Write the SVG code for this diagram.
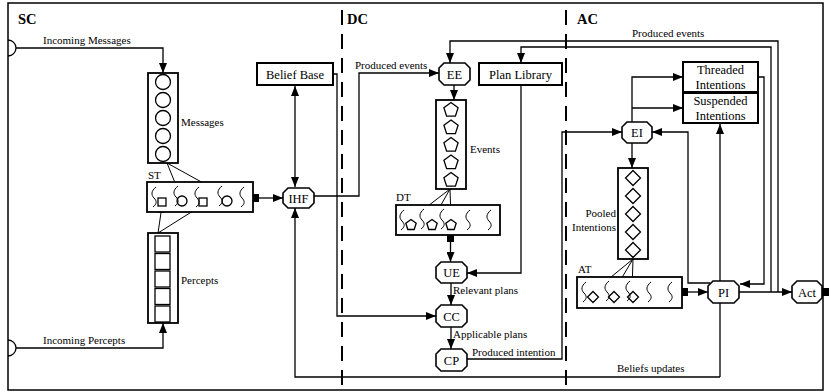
<svg xmlns="http://www.w3.org/2000/svg" xmlns:xlink="http://www.w3.org/1999/xlink" width="835" height="392" viewBox="0 0 835 392">
<style>
text{font-family:"Liberation Serif","Times New Roman",serif;font-size:11px;fill:#000}
.title{font-weight:bold;font-size:14.5px}
.lb{font-size:12.5px}
.mid{text-anchor:middle}
.end{text-anchor:end}
.box{fill:#fff;stroke:#000;stroke-width:2}
.q{fill:#fff;stroke:#000;stroke-width:1.8}
.oct{fill:#fff;stroke:#000;stroke-width:1.6}
.el{fill:none;stroke:#000;stroke-width:1.3}
.c{fill:none;stroke:#000;stroke-width:1.3}
.ca{fill:none;stroke:#000;stroke-width:1.3;marker-end:url(#ah)}
.cs{fill:none;stroke:#000;stroke-width:1;marker-end:url(#as)}
.dash{fill:none;stroke:#000;stroke-width:2;stroke-dasharray:15 9}
.fs{fill:#000}
.sq{fill:none;stroke:#000;stroke-width:1}
</style>
<defs>
<marker id="ah" markerWidth="10" markerHeight="8" refX="10" refY="4" orient="auto-start-reverse" markerUnits="userSpaceOnUse">
<path d="M0,0 L10,4 L0,8 Z" fill="#000"/>
</marker>
<marker id="as" markerWidth="7" markerHeight="6" refX="7" refY="3" orient="auto" markerUnits="userSpaceOnUse">
<path d="M0,0 L7,3 L0,6 Z" fill="#000"/>
</marker>
<path id="squig" d="M2,-10 C-3,-6 -3,-2 0,1 C3,4 3,7 -1,10" class="sq"/>
<path id="pent" d="M0,-7.5 L7.1,-2.3 L4.4,6.1 L-4.4,6.1 L-7.1,-2.3 Z" class="el"/>
<path id="pents" d="M0,-5.5 L5.2,-1.7 L3.2,4.5 L-3.2,4.5 L-5.2,-1.7 Z" class="el"/>
<path id="dia" d="M0,-7.5 L7.5,0 L0,7.5 L-7.5,0 Z" class="el"/>
<path id="dias" d="M0,-5.5 L5.5,0 L0,5.5 L-5.5,0 Z" class="el"/>
</defs>

<rect x="8" y="3" width="815" height="387" fill="#fff" stroke="#000" stroke-width="1.5"/>
<line class="dash" x1="342" y1="10" x2="342" y2="388"/>
<line class="dash" x1="566" y1="10" x2="566" y2="388"/>
<text class="title" x="18" y="24">SC</text>
<text class="title" x="347" y="24">DC</text>
<text class="title" x="577" y="24">AC</text>

<g id="connectors">
<path class="c" d="M8,40 A8,8 0 0 1 8,56"/>
<path class="c" d="M8,340 A8,8 0 0 1 8,356"/>
<path class="ca" d="M16,48 H163 V73"/>
<path class="ca" d="M16,348 H163 V323"/>
<path class="cs" d="M167,163 L180,195"/>
<path class="cs" d="M167,163 L225,195"/>
<path class="cs" d="M158,233 L162,206"/>
<path class="cs" d="M158,233 L201,206"/>
<rect class="fs" x="253" y="194" width="6" height="8"/>
<path class="ca" d="M259,198 H283"/>
<path class="c" d="M295,86 V187" style="marker-start:url(#ah);marker-end:url(#ah)"/>
<path class="ca" d="M333,74 H337 V316 H436"/>
<path class="ca" d="M314,196 H359 V73 H439"/>
<path class="ca" d="M454,85 V100"/>
<path class="cs" d="M450,189 L411,219"/>
<path class="cs" d="M450,189 L433,219"/>
<path class="cs" d="M450,189 L451,219"/>
<rect class="fs" x="447" y="235" width="7" height="7"/>
<path class="ca" d="M450.5,242 V262"/>
<path class="ca" d="M521,85 V273 H467"/>
<path class="ca" d="M451,283 V305"/>
<path class="ca" d="M451,327 V349"/>
<path class="ca" d="M467,359 H562 V132 H622"/>
<path class="ca" d="M778,292 V41 H450 V63"/>
<path class="ca" d="M771,292 V47 H521 V63"/>
<path class="ca" d="M739,292 H792"/>
<path class="ca" d="M758,77 H764 V284 H740"/>
<path class="ca" d="M710,283 H688 V132 H652"/>
<path class="ca" d="M632,122 V77 H683"/>
<path class="ca" d="M632,108 H683"/>
<path class="ca" d="M632,143 V168"/>
<path class="cs" d="M633,259 L594,291"/>
<path class="cs" d="M633,259 L614,291"/>
<path class="cs" d="M633,259 L632,291"/>
<rect class="fs" x="682" y="288" width="6" height="8"/>
<path class="ca" d="M688,292 H708"/>
<path class="ca" d="M720,377 V124"/>
<path class="ca" d="M720,377 H295 V208"/>
<rect class="fs" x="822" y="288" width="7" height="8"/>
</g>
<text x="43" y="44">Incoming Messages</text>
<text x="43" y="344">Incoming Percepts</text>

<g id="messages">
<rect class="q" x="148" y="73" width="30" height="90"/>
<circle class="el" cx="163" cy="82" r="7.5"/>
<circle class="el" cx="163" cy="100" r="7.5"/>
<circle class="el" cx="163" cy="118" r="7.5"/>
<circle class="el" cx="163" cy="136" r="7.5"/>
<circle class="el" cx="163" cy="154" r="7.5"/>
<text x="181" y="126">Messages</text>
</g>

<g id="percepts">
<rect class="q" x="148" y="233" width="30" height="90"/>
<rect class="el" x="155" y="236" width="15" height="16"/>
<rect class="el" x="155" y="253.5" width="15" height="16"/>
<rect class="el" x="155" y="271" width="15" height="16"/>
<rect class="el" x="155" y="288.5" width="15" height="16"/>
<rect class="el" x="155" y="306" width="15" height="16"/>
<text x="181" y="284">Percepts</text>
</g>

<g id="st">
<text x="148" y="179">ST</text>
<rect class="q" x="147" y="182" width="106" height="30"/>
<use xlink:href="#squig" x="154" y="197"/>
<use xlink:href="#squig" x="176" y="196"/>
<use xlink:href="#squig" x="197" y="197"/>
<use xlink:href="#squig" x="220" y="196"/>
<use xlink:href="#squig" x="242" y="197"/>
<rect class="el" x="158" y="198" width="8" height="8"/>
<circle class="el" cx="182" cy="201" r="5"/>
<rect class="el" x="199" y="198" width="8" height="8"/>
<circle class="el" cx="227" cy="201" r="5"/>
</g>

<g id="ihf">
<path class="oct" d="M288,188 H309 L314,193 V203 L309,208 H288 L283,203 V193 Z"/>
<text class="lb mid" x="298.5" y="202.5">IHF</text>
</g>

<g id="beliefbase">
<rect class="box" x="257" y="63" width="76" height="22"/>
<text class="lb mid" x="295" y="78.5">Belief Base</text>
</g>

<g id="ee">
<path class="oct" d="M444,63 H465 L470,68 V80 L465,85 H444 L439,80 V68 Z"/>
<text class="lb mid" x="454.5" y="78.5">EE</text>
</g>
<text x="355" y="69">Produced events</text>

<g id="planlibrary">
<rect class="box" x="479" y="63" width="83" height="22"/>
<text class="lb mid" x="520.5" y="78.5">Plan Library</text>
</g>

<g id="events">
<rect class="q" x="436" y="100" width="30" height="89"/>
<use xlink:href="#pent" x="451" y="110"/>
<use xlink:href="#pent" x="451" y="127.5"/>
<use xlink:href="#pent" x="451" y="145"/>
<use xlink:href="#pent" x="451" y="162.5"/>
<use xlink:href="#pent" x="451" y="180"/>
<text x="470" y="153">Events</text>
</g>

<g id="dt">
<text x="396" y="201">DT</text>
<rect class="q" x="396" y="205" width="104" height="30"/>
<use xlink:href="#squig" x="402" y="220"/>
<use xlink:href="#squig" x="422" y="219"/>
<use xlink:href="#squig" x="442" y="219"/>
<use xlink:href="#squig" x="468" y="220"/>
<use xlink:href="#squig" x="489" y="220"/>
<use xlink:href="#pents" x="411" y="225"/>
<use xlink:href="#pents" x="432" y="225"/>
<use xlink:href="#pents" x="451" y="225"/>
</g>

<g id="ue">
<path class="oct" d="M441,262 H462 L467,267 V278 L462,283 H441 L436,278 V267 Z"/>
<text class="lb mid" x="451.5" y="277">UE</text>
</g>
<text x="453" y="294">Relevant plans</text>

<g id="cc">
<path class="oct" d="M441,305 H462 L467,310 V322 L462,327 H441 L436,322 V310 Z"/>
<text class="lb mid" x="451.5" y="320.5">CC</text>
</g>
<text x="453" y="338">Applicable plans</text>

<g id="cp">
<path class="oct" d="M441,349 H462 L467,354 V366 L462,371 H441 L436,366 V354 Z"/>
<text class="lb mid" x="451.5" y="364.5">CP</text>
</g>
<text x="472" y="356">Produced intention</text>

<text x="632" y="37">Produced events</text>

<g id="threaded">
<rect class="box" x="683" y="62" width="75" height="30"/>
<text class="lb mid" x="720.5" y="74">Threaded</text>
<text class="lb mid" x="720.5" y="89">Intentions</text>
</g>

<g id="suspended">
<rect class="box" x="683" y="93" width="75" height="30"/>
<text class="lb mid" x="720.5" y="105">Suspended</text>
<text class="lb mid" x="720.5" y="120">Intentions</text>
</g>

<g id="ei">
<path class="oct" d="M627,122 H647 L652,127 V138 L647,143 H627 L622,138 V127 Z"/>
<text class="lb mid" x="637" y="137">EI</text>
</g>

<g id="pooled">
<rect class="q" x="618" y="168" width="30" height="91"/>
<use xlink:href="#dia" x="633" y="178"/>
<use xlink:href="#dia" x="633" y="196"/>
<use xlink:href="#dia" x="633" y="214"/>
<use xlink:href="#dia" x="633" y="232"/>
<use xlink:href="#dia" x="633" y="250"/>
<text class="end" x="616" y="217">Pooled</text>
<text class="end" x="616" y="231">Intentions</text>
</g>

<g id="at">
<text x="578" y="273">AT</text>
<rect class="q" x="577" y="277" width="105" height="31"/>
<use xlink:href="#squig" x="584" y="292"/>
<use xlink:href="#squig" x="607" y="291"/>
<use xlink:href="#squig" x="628" y="291"/>
<use xlink:href="#squig" x="649" y="292"/>
<use xlink:href="#squig" x="670" y="292"/>
<use xlink:href="#dias" x="593" y="297"/>
<use xlink:href="#dias" x="614" y="297"/>
<use xlink:href="#dias" x="633" y="297"/>
</g>

<g id="pi">
<path class="oct" d="M713,281 H734 L739,286 V298 L734,303 H713 L708,298 V286 Z"/>
<text class="lb mid" x="723.5" y="296.5">PI</text>
</g>

<g id="act">
<path class="oct" d="M797,281 H817 L822,286 V298 L817,303 H797 L792,298 V286 Z"/>
<text class="lb mid" x="807" y="296.5">Act</text>
</g>

<text x="617" y="372">Beliefs updates</text>
</svg>
